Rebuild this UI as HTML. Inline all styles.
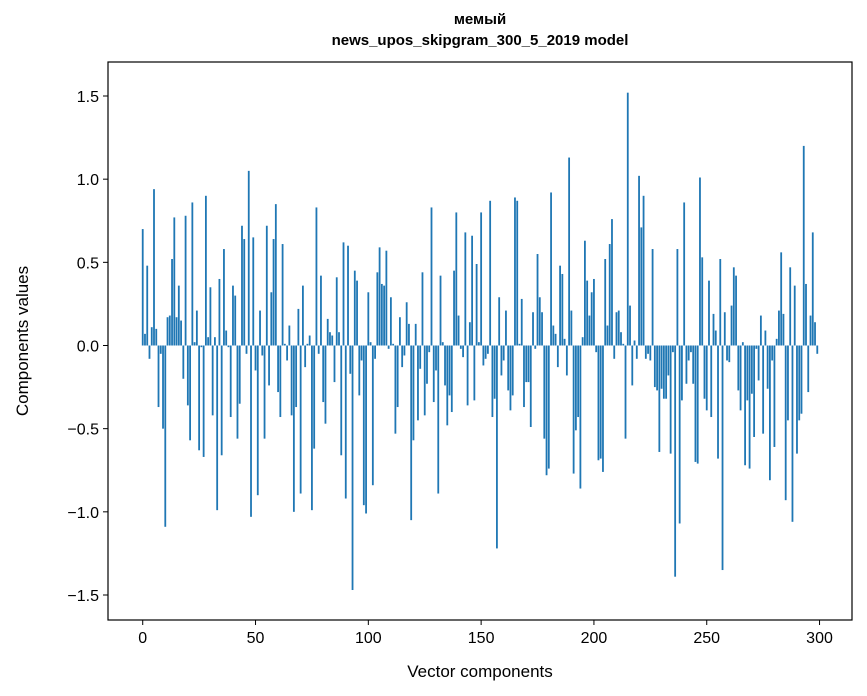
<!DOCTYPE html>
<html><head><meta charset="utf-8"><style>
body{margin:0;background:#fff;}
svg{display:block;font-family:"Liberation Sans","DejaVu Sans",sans-serif;}
</style></head><body>
<svg id="chart" width="867" height="696" viewBox="0 0 867 696">
<text x="480" y="24" text-anchor="middle" font-size="15" font-weight="bold">мемый</text>
<text x="480" y="45" text-anchor="middle" font-size="15" font-weight="bold">news_upos_skipgram_300_5_2019 model</text>
<g id="bars"></g>
<g id="axes"></g>
<rect x="108" y="62" width="744" height="558" fill="none" stroke="#000" stroke-width="1.2"/>
<text x="480" y="677" text-anchor="middle" font-size="17">Vector components</text>
<text x="28" y="341" text-anchor="middle" font-size="17" transform="rotate(-90 28 341)">Components values</text>
</svg>
<script>
const values = [0.70,0.07,0.48,-0.08,0.11,0.94,0.10,-0.37,-0.05,-0.50,
-1.09,0.17,0.18,0.52,0.77,0.17,0.36,0.15,-0.20,0.78,
-0.36,-0.57,0.86,0.02,0.21,-0.63,-0.01,-0.67,0.90,0.05,
0.35,-0.42,0.05,-0.99,0.40,-0.66,0.58,0.09,-0.01,-0.43,
0.36,0.30,-0.56,-0.35,0.72,0.64,-0.05,1.05,-1.03,0.65,
-0.15,-0.90,0.21,-0.06,-0.56,0.72,-0.24,0.32,0.64,0.85,
-0.28,-0.43,0.61,0.01,-0.09,0.12,-0.42,-1.00,-0.37,0.22,
-0.89,0.36,-0.13,0.01,0.06,-0.99,-0.62,0.83,-0.05,0.42,
-0.34,-0.47,0.16,0.08,0.06,-0.22,0.41,0.08,-0.66,0.62,
-0.92,0.60,-0.17,-1.47,0.45,0.39,-0.30,-0.09,-0.96,-1.01,
0.32,0.02,-0.84,-0.08,0.44,0.59,0.37,0.36,0.57,-0.02,
0.29,0.01,-0.53,-0.37,0.17,-0.13,-0.06,0.26,0.13,-1.05,
-0.57,0.13,-0.45,-0.14,0.44,-0.42,-0.23,-0.04,0.83,-0.34,
-0.15,-0.89,0.42,0.02,-0.24,-0.48,-0.30,-0.40,0.45,0.80,
0.18,-0.02,-0.07,0.68,-0.36,0.14,0.66,-0.33,0.49,0.02,
0.80,-0.12,-0.08,-0.05,0.87,-0.43,-0.32,-1.22,0.29,-0.18,
-0.09,0.21,-0.27,-0.39,-0.30,0.89,0.87,0.01,0.28,-0.37,
-0.22,-0.22,-0.49,0.20,-0.02,0.55,0.29,0.20,-0.56,-0.78,
-0.74,0.92,0.12,0.07,-0.13,0.48,0.43,0.04,-0.18,1.13,
0.21,-0.77,-0.51,-0.43,-0.86,0.05,0.63,0.39,0.18,0.32,
0.40,-0.04,-0.69,-0.68,-0.76,0.52,0.12,0.61,0.76,-0.08,
0.20,0.21,0.08,0.01,-0.56,1.52,0.24,-0.24,0.03,-0.08,
1.02,0.71,0.90,-0.08,-0.05,-0.09,0.58,-0.25,-0.27,-0.64,
-0.26,-0.32,-0.32,-0.18,-0.65,-0.04,-1.39,0.58,-1.07,-0.33,
0.86,-0.23,-0.09,-0.04,-0.23,-0.70,-0.71,1.01,0.53,-0.32,
-0.39,0.39,-0.43,0.19,0.09,-0.68,0.52,-1.35,0.20,-0.09,
-0.10,0.24,0.47,0.42,-0.27,-0.39,0.02,-0.72,-0.33,-0.74,
-0.29,-0.55,-0.02,-0.21,0.18,-0.53,0.09,-0.26,-0.81,-0.09,
-0.61,0.04,0.21,0.56,0.19,-0.93,-0.45,0.47,-1.06,0.36,
-0.65,-0.45,-0.41,1.20,0.37,-0.28,0.18,0.68,0.14,-0.05];
const xTicks = [0,50,100,150,200,250,300];
const yTicks = [-1.5,-1.0,-0.5,0.0,0.5,1.0,1.5];
const yTickLabels = ["−1.5","−1.0","−0.5","0.0","0.5","1.0","1.5"];

const NS = "http://www.w3.org/2000/svg";
const plotL = 108, plotR = 852, plotT = 62, plotB = 620;
const xMin = -15.39, xMax = 314.39;
function xScale(v){ return plotL + (v - xMin) / (xMax - xMin) * (plotR - plotL); }
function yScale(v){ return 345.5 - v * 166.33; }
const bw = (xScale(0.8) - xScale(0));

const barsG = document.getElementById('bars');
values.forEach((v, i) => {
  const r = document.createElementNS(NS, 'rect');
  const y0 = yScale(0), y1 = yScale(v);
  r.setAttribute('x', xScale(i) - bw/2);
  r.setAttribute('y', Math.min(y0, y1));
  r.setAttribute('width', bw);
  r.setAttribute('height', Math.abs(y1 - y0));
  r.setAttribute('fill', '#1f77b4');
  
  
  barsG.appendChild(r);
});

const axesG = document.getElementById('axes');
xTicks.forEach(t => {
  const x = xScale(t);
  const l = document.createElementNS(NS, 'line');
  l.setAttribute('x1', x); l.setAttribute('x2', x);
  l.setAttribute('y1', plotB); l.setAttribute('y2', plotB + 5);
  l.setAttribute('stroke', '#000');
  
  
  axesG.appendChild(l);
  const tx = document.createElementNS(NS, 'text');
  tx.setAttribute('x', x); tx.setAttribute('y', plotB + 23);
  tx.setAttribute('text-anchor', 'middle'); tx.setAttribute('font-size', '16');
  tx.textContent = t;
  
  
  axesG.appendChild(tx);
});
yTicks.forEach((t, i) => {
  const y = yScale(t);
  const l = document.createElementNS(NS, 'line');
  l.setAttribute('x1', plotL - 5); l.setAttribute('x2', plotL);
  l.setAttribute('y1', y); l.setAttribute('y2', y);
  l.setAttribute('stroke', '#000');
  
  
  axesG.appendChild(l);
  const tx = document.createElementNS(NS, 'text');
  tx.setAttribute('x', plotL - 9); tx.setAttribute('y', y + 6);
  tx.setAttribute('text-anchor', 'end'); tx.setAttribute('font-size', '16');
  tx.textContent = yTickLabels[i];
  
  
  axesG.appendChild(tx);
});
</script>
</body></html>
